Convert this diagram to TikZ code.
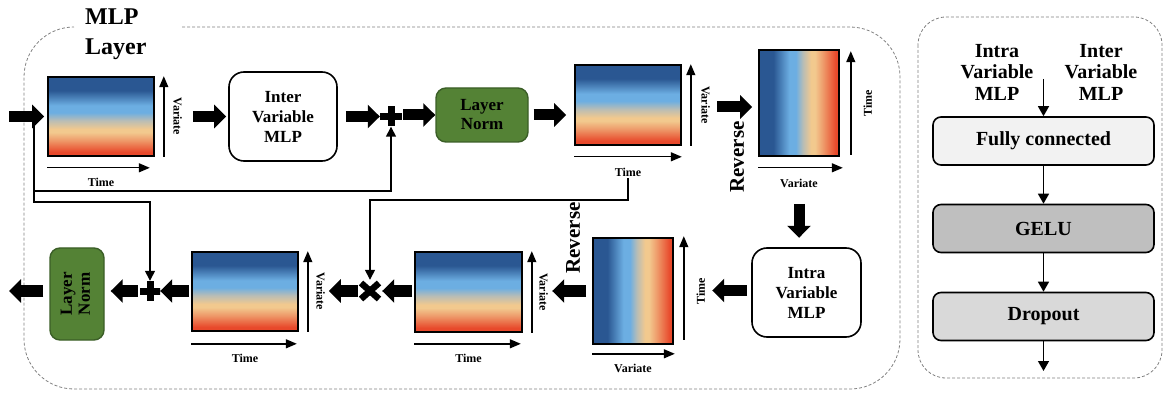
\documentclass[tikz,border=0pt]{standalone}
\usepackage{fontspec}
\setmainfont{Liberation Serif}
\usepackage{graphicx}
\usetikzlibrary{arrows.meta}
\definecolor{hb1}{HTML}{2A5792}
\definecolor{hb3}{HTML}{6CAEE2}
\definecolor{hgr}{HTML}{B9BDB5}
\definecolor{hsd}{HTML}{F2C98E}
\definecolor{hor}{HTML}{EE9A6A}
\definecolor{hrd}{HTML}{E8492B}
\definecolor{lngreen}{HTML}{548235}
\definecolor{lnborder}{HTML}{3B5E27}
\definecolor{dashgray}{HTML}{808080}
\pgfdeclareverticalshading{heatv}{100bp}{color(0bp)=(hrd); color(25bp)=(hrd); color(27.5bp)=(hrd); color(35bp)=(hor); color(40bp)=(hsd); color(42bp)=(hsd); color(47.5bp)=(hgr); color(52.5bp)=(hb3); color(57bp)=(hb3); color(66.5bp)=(hb1); color(75bp)=(hb1); color(100bp)=(hb1)}
\pgfdeclarehorizontalshading{heath}{100bp}{color(0bp)=(hb1); color(25bp)=(hb1); color(34bp)=(hb1); color(44bp)=(hb3); color(48bp)=(hb3); color(52.5bp)=(hgr); color(57.5bp)=(hsd); color(60bp)=(hsd); color(65bp)=(hor); color(73bp)=(hrd); color(75bp)=(hrd); color(100bp)=(hrd)}
\begin{document}
\begin{tikzpicture}[x=1pt,y=1pt,
  hmv/.style={draw, line width=1.6pt, shade, shading=heatv, inner sep=0},
  hmh/.style={draw, line width=1.6pt, shade, shading=heath, inner sep=0},
  ax/.style={line width=1.4pt, -{Triangle[length=11pt,width=9pt]}},
  conn/.style={line width=1.4pt, -{Triangle[length=10pt,width=10pt]}},
  rconn/.style={line width=1.4pt, -{Triangle[length=10pt,width=11pt]}},
  blk/.style={line width=11pt, -{Triangle[length=12pt,width=23pt]}},
  lab/.style={font=\fontsize{12}{12}\selectfont\bfseries, inner sep=1pt},
  rev/.style={font=\fontsize{21}{21}\selectfont\bfseries, rotate=90, inner sep=1pt},
  mlpbox/.style={draw, line width=1.6pt, rounded corners=15pt, fill=white, align=center, font=\fontsize{17}{20}\selectfont\bfseries, minimum width=108pt, minimum height=89pt, inner sep=0},
  lnbox/.style={draw=lnborder, line width=1.4pt, fill=lngreen, rounded corners=10pt, align=center, font=\fontsize{17}{19}\selectfont\bfseries, inner sep=0},
  rbox/.style={draw, line width=1.6pt, rounded corners=8pt, minimum width=221pt, minimum height=48pt, font=\fontsize{20}{22}\selectfont\bfseries, inner sep=0},
  rlab/.style={align=center, font=\fontsize{20}{21.5}\selectfont\bfseries, inner sep=0},
  dashbox/.style={draw=dashgray, line width=0.8pt, dash pattern=on 3pt off 2pt},
  plusnode/.style={minimum width=22pt, minimum height=20pt, inner sep=0, path picture={
    \fill ([xshift=-11pt,yshift=-3.5pt]path picture bounding box.center) rectangle ([xshift=11pt,yshift=3.5pt]path picture bounding box.center);
    \fill ([xshift=-3.5pt,yshift=-10pt]path picture bounding box.center) rectangle ([xshift=3.5pt,yshift=10pt]path picture bounding box.center);}},
  crossnode/.style={minimum width=24pt, minimum height=22pt, inner sep=0, path picture={
    \draw[line width=6.5pt] ([xshift=-9pt,yshift=-8pt]path picture bounding box.center) -- ([xshift=9pt,yshift=8pt]path picture bounding box.center);
    \draw[line width=6.5pt] ([xshift=-9pt,yshift=8pt]path picture bounding box.center) -- ([xshift=9pt,yshift=-8pt]path picture bounding box.center);}}
]
\useasboundingbox (0,0) rectangle (1164,-403);
% outer dashed frames
\draw[dashbox, rounded corners=50pt] (182,-27) -- (900,-27) -- (900,-389) -- (24,-389) -- (24,-27) -- (74,-27);
\node[anchor=north west, align=left, font=\fontsize{24}{30}\selectfont\bfseries, inner sep=0] (title) at (85,-9) {MLP\\Layer};
\draw[dashbox, rounded corners=28pt] (918,-17) rectangle (1162,-378);

% ---------- top row ----------
\node[hmv, minimum width=106pt, minimum height=79pt] (h1) at (101,-116.5) {};
\draw[ax] ([xshift=9pt]h1.south east) -- ([xshift=9pt]h1.north east);
\draw[ax] ([yshift=-11pt]h1.south west) -- ([yshift=-11pt,xshift=-5pt]h1.south east);
\node[lab] (t1) at ([yshift=-26pt]h1.south) {Time};
\node[lab, rotate=-90] (v1) at ([xshift=23pt]h1.east) {Variate};

\node[mlpbox] (inter) at (283,-116.5) {Inter\\Variable\\MLP};
\node[plusnode] (p1) at (391,-116.5) {};
\node[lnbox, minimum width=92pt, minimum height=54pt] (ln1) at (482,-115) {Layer\\Norm};

\node[hmv, minimum width=106pt, minimum height=80pt] (h2) at (628,-105) {};
\draw[ax] ([xshift=9pt]h2.south east) -- ([xshift=9pt]h2.north east);
\draw[ax] ([yshift=-11pt]h2.south west) -- ([yshift=-11pt]h2.south east);
\node[lab] (t2) at ([yshift=-27pt]h2.south) {Time};
\node[lab, rotate=-90] (v2) at ([xshift=24pt]h2.east) {Variate};

\node[hmh, minimum width=80pt, minimum height=106pt] (h3) at (799,-103) {};
\draw[ax] ([xshift=11pt,yshift=2pt]h3.south east) -- ([xshift=11pt,yshift=-2pt]h3.north east);
\draw[ax] ([yshift=-11pt]h3.south west) -- ([yshift=-11pt,xshift=3pt]h3.south east);
\node[lab] (vv3) at ([yshift=-27pt]h3.south) {Variate};
\node[lab, rotate=90] (tt3) at ([xshift=28pt]h3.east) {Time};
\node[rev] (r1) at (737,-157) {Reverse};

% ---------- bottom row ----------
\node[mlpbox, minimum width=109pt] (intra) at (806.5,-292.5) {Intra\\Variable\\MLP};

\node[hmh, minimum width=80pt, minimum height=106pt] (h4) at (633,-291) {};
\draw[ax] ([xshift=10pt,yshift=5pt]h4.south east) -- ([xshift=10pt,yshift=1pt]h4.north east);
\draw[ax] ([yshift=-9pt]h4.south west) -- ([yshift=-9pt,xshift=1pt]h4.south east);
\node[lab] (vv4) at ([yshift=-24pt]h4.south) {Variate};
\node[lab, rotate=90] (tt4) at ([xshift=27pt]h4.east) {Time};
\node[rev] (r2) at (573,-238) {Reverse};

\node[hmv, minimum width=107pt, minimum height=80pt] (h5) at (468.5,-292) {};
\draw[ax] ([xshift=9pt]h5.south east) -- ([xshift=9pt]h5.north east);
\draw[ax] ([yshift=-11pt]h5.south west) -- ([yshift=-11pt,xshift=-2pt]h5.south east);
\node[lab] (t5) at ([yshift=-26pt]h5.south) {Time};
\node[lab, rotate=-90] (v5) at ([xshift=21pt]h5.east) {Variate};

\node[crossnode] (cross) at (370,-291) {};

\node[hmv, minimum width=106pt, minimum height=79pt] (h6) at (245,-291.5) {};
\draw[ax] ([xshift=9pt]h6.south east) -- ([xshift=9pt]h6.north east);
\draw[ax] ([yshift=-12pt]h6.south west) -- ([yshift=-12pt,xshift=-2pt]h6.south east);
\node[lab] (t6) at ([yshift=-27pt]h6.south) {Time};
\node[lab, rotate=-90] (v6) at ([xshift=22pt]h6.east) {Variate};

\node[plusnode, minimum width=20pt] (p2) at (150,-291) {};
\node[lnbox, minimum width=54pt, minimum height=92pt] (ln2) at (77,-294) {\rotatebox{90}{\begin{tabular}{@{}c@{}}Layer\\[-1pt]Norm\end{tabular}}};

% ---------- block arrows ----------
\coordinate (in) at (9,-116.5);
\coordinate (out) at (9,-291);
\draw[blk] (in) -- ([xshift=-3pt]h1.west);
\draw[blk] ([xshift=38pt]h1.east) -- ([xshift=-2pt]inter.west);
\draw[blk] ([xshift=8pt]inter.east) -- (p1.west);
\draw[blk] ([xshift=1pt]p1.east |- ln1.west) -- (ln1.west);
\draw[blk] ([xshift=5pt]ln1.east) -- ([xshift=-8pt]ln1.east -| h2.west);
\draw[blk] ([xshift=-41pt,yshift=-4pt]h3.west) -- ([xshift=-6pt,yshift=-4pt]h3.west);
\draw[blk] ([yshift=-47pt]h3.south) -- ([yshift=-81pt]h3.south);
\draw[blk] ([xshift=-4pt,yshift=2pt]intra.west) -- ([xshift=-39pt,yshift=2pt]intra.west);
\draw[blk] ([xshift=-6pt]h4.west) -- ([xshift=-40pt]h4.west);
\draw[blk] ([xshift=-2pt,yshift=1pt]h5.west) -- (cross.east);
\draw[blk] (cross.west) -- ([xshift=30pt,yshift=0.5pt]h6.east);
\draw[blk] ([xshift=-2pt,yshift=0.5pt]h6.west) -- (p2.east);
\draw[blk] ([xshift=-2pt]p2.west) -- ([xshift=6pt]p2.west -| ln2.east);
\draw[blk] ([xshift=-6pt]p2.west -| ln2.west) -- (out);

% ---------- skip connections ----------
\coordinate (sk) at (34,-116.5);
\draw[conn] (sk) -- (34,-191) -| (p1.south);
\draw[conn] (34,-191) -- (34,-202) -| (p2.north);
\draw[conn] (t2.south) -- (628,-200) -| (cross.north);

% ---------- right panel ----------
\node[rlab] (intraL) at (997,-72) {Intra\\Variable\\MLP};
\node[rlab] (interL) at (1101,-72) {Inter\\Variable\\MLP};
\node[rbox, fill=black!5] (fc) at (1043.5,-141) {Fully connected};
\node[rbox, fill=black!25] (gelu) at (1043.5,-228.5) {GELU};
\node[rbox, fill=black!15] (drop) at (1043.5,-316.5) {Dropout};
\coordinate (rin) at (1043.5,-79);
\coordinate (rout) at (1043.5,-371);
\draw[rconn] (rin) -- (fc.north);
\draw[rconn] (fc.south) -- (gelu.north);
\draw[rconn] (gelu.south) -- (drop.north);
\draw[rconn] (drop.south) -- (rout);
\end{tikzpicture}
\end{document}
